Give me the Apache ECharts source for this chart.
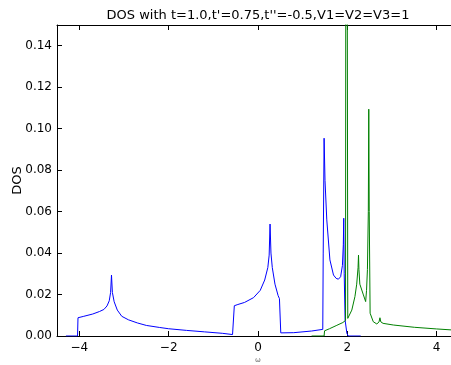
<!DOCTYPE html>
<html>
<head>
<meta charset="utf-8">
<script src="https://cdn.jsdelivr.net/npm/echarts@6/dist/echarts.min.js"></script>
<style>html,body{margin:0;padding:0;background:#fff;}#c{width:451px;height:365px;}</style>
</head>
<body>
<div id="c"></div>
<script>
const titleText = "DOS with t=1.0,t'=0.75,t''=-0.5,V1=V2=V3=1";
const xTicks = [-4, -2, 0, 2, 4];
const yTicks = [0, 0.02, 0.04, 0.06, 0.08, 0.10, 0.12, 0.14];

const blueX = [-4.3, -4.04, -4.03, -3.9, -3.7, -3.55, -3.45, -3.38, -3.33, -3.30, -3.28, -3.26, -3.22, -3.15, -3.05, -2.9, -2.7, -2.5, -2.2, -2.0, -1.6, -1.2, -0.8, -0.57, -0.53, -0.45, -0.3, -0.1, 0.05, 0.15, 0.22, 0.25, 0.27, 0.29, 0.32, 0.38, 0.45, 0.48, 0.51, 0.52, 0.8, 1.2, 1.45, 1.46, 1.48, 1.50, 1.54, 1.61, 1.69, 1.75, 1.80, 1.85, 1.89, 1.91, 1.92, 1.93, 1.95, 1.99, 2.02, 2.3];
const blueY = [0, 0, 0.0088, 0.0095, 0.0106, 0.0118, 0.0128, 0.0145, 0.017, 0.021, 0.0294, 0.021, 0.0165, 0.0125, 0.0095, 0.0078, 0.0063, 0.0051, 0.0041, 0.0035, 0.0027, 0.002, 0.0013, 0.0007, 0.0146, 0.0152, 0.0162, 0.0185, 0.022, 0.027, 0.033, 0.039, 0.054, 0.04, 0.033, 0.025, 0.0195, 0.018, 0.0015, 0.0012, 0.0016, 0.0024, 0.0032, 0.04, 0.0954, 0.075, 0.056, 0.0367, 0.0294, 0.0278, 0.0274, 0.0286, 0.034, 0.044, 0.0568, 0.03, 0.0077, 0.0013, 0, 0];

const greenX = [1.2, 1.48, 1.49, 1.6, 1.75, 1.9, 1.96, 1.975, 1.997, 2.01, 2.04, 2.10, 2.17, 2.21, 2.24, 2.25, 2.26, 2.28, 2.36, 2.41, 2.43, 2.45, 2.47, 2.48, 2.49, 2.51, 2.58, 2.66, 2.71, 2.73, 2.75, 2.80, 3.03, 3.5, 4.0, 4.5];
const greenY = [0, 0, 0.0025, 0.0035, 0.005, 0.0065, 0.0075, 0.5, 0.5, 0.0085, 0.0093, 0.0125, 0.019, 0.025, 0.033, 0.039, 0.032, 0.025, 0.0198, 0.0166, 0.022, 0.032, 0.06, 0.1094, 0.06, 0.011, 0.0069, 0.0058, 0.0068, 0.0088, 0.0068, 0.0061, 0.0053, 0.0042, 0.0034, 0.0027];

const pairs = (xs, ys) => xs.map((x, i) => [x, ys[i]]);
const font = 'DejaVu Sans';
const minus = v => String(v).replace('-', '\u2212');

const chart = echarts.init(document.getElementById('c'), null, {renderer: 'canvas'});
chart.setOption({
  animation: false,
  backgroundColor: '#ffffff',
  graphic: [{
    type: 'text', x: 258, y: 16,
    style: {text: titleText, fontFamily: font, fontSize: 13, fill: '#000', align: 'center', verticalAlign: 'middle'}
  }],
  grid: {left: 57, top: 25, width: 402, height: 311, containLabel: false, outerBoundsMode: 'none'},
  xAxis: [{
    type: 'value', min: -4.5, max: 4.5, position: 'bottom',
    name: '\u03c9', nameLocation: 'middle', nameGap: 21, nameMoveOverlap: false,
    nameTextStyle: {fontFamily: font, fontSize: 7, color: '#666'},
    axisLine: {onZero: false, lineStyle: {color: '#000', width: 1}},
    axisTick: {inside: true, length: 5, customValues: xTicks, lineStyle: {color: '#000'}},
    axisLabel: {customValues: xTicks, formatter: v => minus(v), fontFamily: font, fontSize: 12, color: '#000', margin: 6},
    splitLine: {show: false}
  }, {
    type: 'value', min: -4.5, max: 4.5, position: 'top',
    axisLine: {onZero: false, lineStyle: {color: '#000', width: 1}},
    axisTick: {inside: true, length: 5, customValues: xTicks, lineStyle: {color: '#000'}},
    axisLabel: {show: false},
    splitLine: {show: false}
  }],
  yAxis: [{
    type: 'value', min: 0, max: 0.15, position: 'left',
    name: 'DOS', nameLocation: 'middle', nameGap: 33, nameRotate: 90, nameMoveOverlap: false,
    nameTextStyle: {fontFamily: font, fontSize: 13, color: '#000'},
    axisLine: {show: true, onZero: false, lineStyle: {color: '#000', width: 1}},
    axisTick: {show: true, inside: true, length: 5, customValues: yTicks, lineStyle: {color: '#000'}},
    axisLabel: {customValues: yTicks, formatter: v => v.toFixed(2), fontFamily: font, fontSize: 12, color: '#000', margin: 5},
    splitLine: {show: false}
  }],
  series: [{
    type: 'line', data: pairs(blueX, blueY), showSymbol: false, symbol: 'none',
    lineStyle: {color: '#0000ff', width: 1}, clip: true, z: 2
  }, {
    type: 'line', data: pairs(greenX, greenY), showSymbol: false, symbol: 'none',
    lineStyle: {color: '#008000', width: 1}, clip: true, z: 3
  }]
});
</script>
</body>
</html>
